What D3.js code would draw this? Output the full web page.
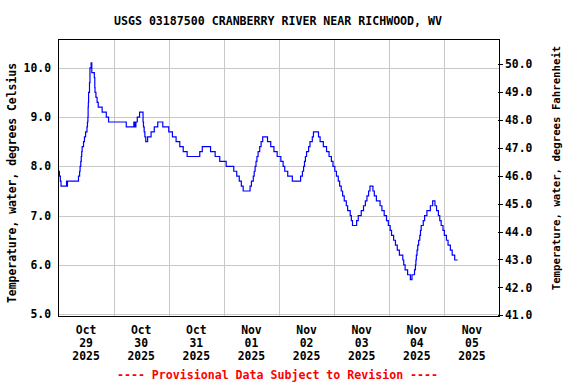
<!DOCTYPE html>
<meta charset="utf-8">
<style>
  body { margin: 0; background: #fff; }
  text { font-family: "DejaVu Sans Mono", monospace; font-weight: bold; }
</style>
<svg width="576" height="384"></svg>
<script src="https://d3js.org/d3.v7.min.js"></script>
<script>

// hours after 2025-10-29 00:00 where the reading changes, and the reading (deg C)
var stepHours = [0, 0.4, 0.8, 1.1, 3.5, 3.7, 3.9, 8.7, 9.2, 9.4, 9.7, 9.9, 10.1, 10.3,
  10.9, 11.3, 11.8, 12.4, 12.6, 12.8, 12.9, 13.0, 13.1, 13.5, 13.7, 14.2, 14.5,
  15.6, 15.8, 15.9, 16.3, 16.8, 17.3, 19.0, 20.8, 21.8, 29.5, 32.8, 33.3, 33.7,
  34.3, 35.3, 36.8, 37.0, 37.3, 37.6, 38.0, 38.8, 40.3, 41.7, 43.2, 45.4, 48.0,
  49.6, 51.2, 52.8, 54.3, 56.0, 61.5, 62.6, 66.2, 68.2, 70.2, 73.0, 76.3, 77.6,
  78.7, 79.6, 80.4, 83.4, 84.0, 84.8, 85.2, 85.6, 86.0, 86.4, 86.9, 87.6, 88.2,
  88.9, 91.0, 92.4, 93.8, 95.2, 96.8, 97.8, 98.5, 99.8, 101.8, 105.4, 106.2, 106.7,
  107.1, 107.5, 108.0, 108.9, 109.5, 110.5, 111.0, 113.2, 113.9, 115.3, 116.7,
  117.8, 118.8, 119.5, 120.3, 121.0, 121.8, 122.4, 123.1, 123.7, 124.4, 125.3,
  125.9, 127.0, 127.5, 128.0, 129.8, 130.5, 131.8, 132.8, 133.6, 134.3, 135.0,
  135.6, 136.9, 137.5, 138.4, 140.0, 140.8, 141.8, 142.8, 143.6, 144.4, 145.0,
  145.9, 146.7, 147.5, 148.4, 149.9, 150.3, 150.9, 152.0, 153.2, 153.9, 155.0,
  155.4, 155.6, 155.8, 156.1, 156.4, 156.8, 157.3, 157.6, 157.9, 158.8, 159.4,
  160.4, 161.9, 162.9, 163.9, 164.6, 165.4, 166.0, 166.6, 167.4, 168.0, 168.9,
  169.6, 170.6, 171.4, 172.5, 173.8];
var tempC = [7.9, 7.8, 7.7, 7.6, 7.7, 7.6, 7.7, 7.8, 7.9, 8.0, 8.1, 8.2, 8.3, 8.4,
  8.5, 8.6, 8.7, 8.8, 8.9, 9.0, 9.2, 9.3, 9.5, 9.7, 10.0, 10.1, 9.9,
  9.8, 9.6, 9.5, 9.4, 9.3, 9.2, 9.1, 9.0, 8.9, 8.8, 8.9, 8.8, 8.9,
  9.0, 9.1, 8.9, 8.8, 8.7, 8.6, 8.5, 8.6, 8.7, 8.8, 8.9, 8.8, 8.7,
  8.6, 8.5, 8.4, 8.3, 8.2, 8.3, 8.4, 8.3, 8.2, 8.1, 8.0, 7.9, 7.8,
  7.7, 7.6, 7.5, 7.6, 7.7, 7.8, 7.9, 8.0, 8.1, 8.2, 8.3, 8.4, 8.5,
  8.6, 8.5, 8.4, 8.3, 8.2, 8.1, 8.0, 7.9, 7.8, 7.7, 7.8, 7.9, 8.0,
  8.1, 8.2, 8.3, 8.4, 8.5, 8.6, 8.7, 8.6, 8.5, 8.4, 8.3,
  8.2, 8.1, 8.0, 7.9, 7.8, 7.7, 7.6, 7.5, 7.4, 7.3, 7.2,
  7.1, 7.0, 6.9, 6.8, 6.9, 7.0, 7.1, 7.2, 7.3, 7.4, 7.5,
  7.6, 7.5, 7.4, 7.3, 7.2, 7.1, 7.0, 6.9, 6.8, 6.7, 6.6,
  6.5, 6.4, 6.3, 6.2, 6.1, 6.0, 5.9, 5.8, 5.7, 5.8, 5.9,
  6.0, 6.1, 6.2, 6.3, 6.4, 6.5, 6.6, 6.7, 6.8, 6.9, 7.0,
  7.1, 7.2, 7.3, 7.2, 7.1, 7.0, 6.9, 6.8, 6.7, 6.6, 6.5,
  6.4, 6.3, 6.2, 6.1, 6.1];

var celsiusTicks = [5, 6, 7, 8, 9, 10];
var fahrenheitTicks = [41, 42, 43, 44, 45, 46, 47, 48, 49, 50];
var dayLabels = ["2025-10-29", "2025-10-30", "2025-10-31", "2025-11-01",
  "2025-11-02", "2025-11-03", "2025-11-04", "2025-11-05"];

var svg = d3.select("svg"),
    plotLeft = 58.5, plotRight = 499.5, plotTop = 39.5, plotBottom = 316.5;

var start = Date.UTC(2025, 9, 29);
var hour = 3600 * 1000;
var parseDay = d3.utcParse("%Y-%m-%d");

var x = d3.scaleUtc()
    .domain([new Date(start), new Date(Date.UTC(2025, 10, 6))])
    .range([plotLeft, plotRight]);
var y = d3.scaleLinear().domain([4.953, 10.574]).range([plotBottom, plotTop]);
var yF = d3.scaleLinear().domain([40.96, 50.87]).range([plotBottom, plotTop]);

var points = stepHours.map(function(h, i) {
  return { t: new Date(start + h * hour), v: tempC[i] };
});

// grid
var grid = svg.append("g").attr("stroke", "#c8c8c8").attr("shape-rendering", "crispEdges");
grid.selectAll(".hg").data(celsiusTicks).enter().append("line")
    .attr("x1", plotLeft).attr("x2", plotRight)
    .attr("y1", function(d) { return Math.round(y(d)) + 0.5; })
    .attr("y2", function(d) { return Math.round(y(d)) + 0.5; });
var midnights = dayLabels.slice(1).map(parseDay);
grid.selectAll(".vg").data(midnights).enter().append("line")
    .attr("y1", plotTop).attr("y2", plotBottom)
    .attr("x1", function(d) { return Math.round(x(d)) + 0.5; })
    .attr("x2", function(d) { return Math.round(x(d)) + 0.5; });

// data line
var line = d3.line()
    .curve(d3.curveStepAfter)
    .x(function(d) { return x(d.t); })
    .y(function(d) { return y(d.v); });

svg.append("path")
    .datum(points)
    .attr("fill", "none")
    .attr("stroke", "#0000ff")
    .attr("stroke-width", 1.2)
    .attr("d", line);

// frame
svg.append("rect")
    .attr("x", plotLeft).attr("y", plotTop)
    .attr("width", plotRight - plotLeft).attr("height", plotBottom - plotTop)
    .attr("fill", "none").attr("stroke", "#000").attr("shape-rendering", "crispEdges");

// left axis labels
svg.append("g").selectAll("text").data(celsiusTicks).enter().append("text")
    .attr("x", 51).attr("y", function(d) { return y(d); }).attr("dy", "0.36em")
    .attr("text-anchor", "end").attr("font-size", 11.4)
    .text(function(d) { return d.toFixed(1); });

// right axis ticks and labels
var rAxis = svg.append("g");
rAxis.selectAll("line").data(fahrenheitTicks).enter().append("line")
    .attr("x1", plotRight - 2).attr("x2", plotRight + 3)
    .attr("y1", function(d) { return Math.round(yF(d)) + 0.5; })
    .attr("y2", function(d) { return Math.round(yF(d)) + 0.5; })
    .attr("stroke", "#000").attr("shape-rendering", "crispEdges");
rAxis.selectAll("text").data(fahrenheitTicks).enter().append("text")
    .attr("x", 505).attr("y", function(d) { return yF(d); }).attr("dy", "0.36em")
    .attr("font-size", 11.4)
    .text(function(d) { return d.toFixed(1); });

// bottom date labels, centred on noon
var fmtMonth = d3.utcFormat("%b"), fmtDay = d3.utcFormat("%d"), fmtYear = d3.utcFormat("%Y");
var xl = svg.append("g").selectAll("g").data(dayLabels.map(parseDay)).enter().append("g")
    .attr("transform", function(d) { return "translate(" + x(new Date(+d + 12 * hour)) + ",0)"; });
[[fmtMonth, 330], [fmtDay, 342.8], [fmtYear, 355.7]].forEach(function(row) {
  xl.append("text")
      .attr("y", row[1]).attr("dy", "0.36em")
      .attr("text-anchor", "middle").attr("font-size", 11.4)
      .text(function(d) { return row[0](d); });
});

// titles
svg.append("text")
    .attr("x", 278).attr("y", 20).attr("dy", "0.36em")
    .attr("text-anchor", "middle").attr("font-size", 12.5)
    .attr("textLength", 328).attr("lengthAdjust", "spacingAndGlyphs")
    .text("USGS 03187500 CRANBERRY RIVER NEAR RICHWOOD, WV");

svg.append("text")
    .attr("transform", "translate(12,183) rotate(-90)")
    .attr("dy", "0.36em").attr("text-anchor", "middle").attr("font-size", 11.4)
    .text("Temperature, water, degrees Celsius");

svg.append("text")
    .attr("transform", "translate(556,168) rotate(-90)")
    .attr("dy", "0.36em").attr("text-anchor", "middle").attr("font-size", 10.7)
    .text("Temperature, water, degrees Fahrenheit");

svg.append("text")
    .attr("x", 277.5).attr("y", 375).attr("dy", "0.36em")
    .attr("text-anchor", "middle").attr("font-size", 11.6).attr("fill", "#ff0000")
    .text("---- Provisional Data Subject to Revision ----");

</script>
